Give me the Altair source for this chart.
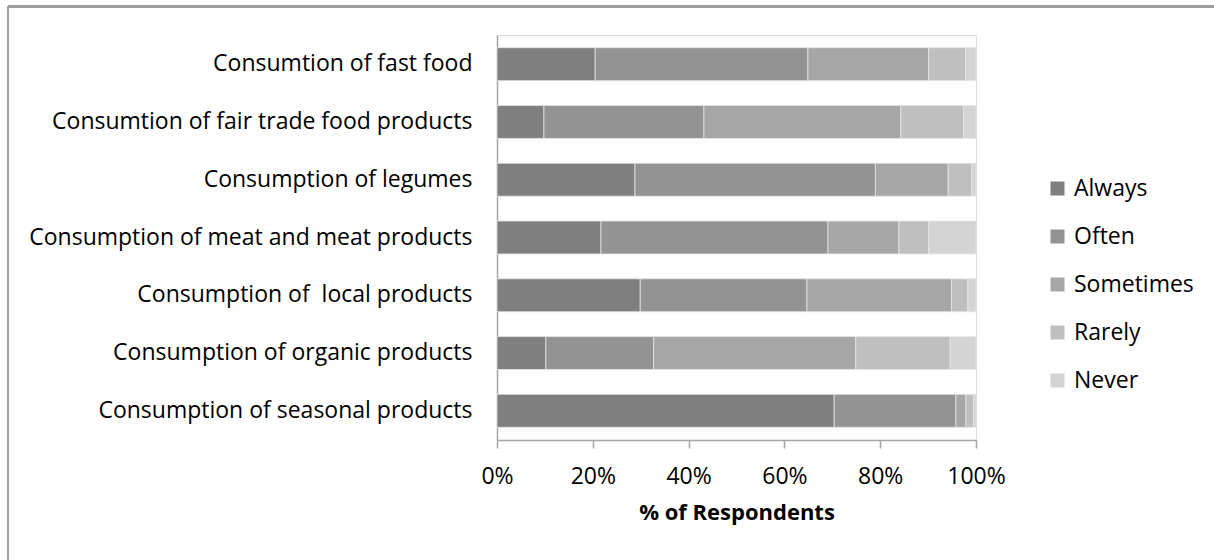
import altair as alt
import pandas as pd

categories = [
    "Consumtion of fast food",
    "Consumtion of fair trade food products",
    "Consumption of legumes",
    "Consumption of meat and meat products",
    "Consumption of \u00a0local products",
    "Consumption of organic products",
    "Consumption of seasonal products",
]
responses = ["Always", "Often", "Sometimes", "Rarely", "Never"]
always = [20.5, 9.8, 28.8, 21.7, 29.9, 10.2, 70.4]
often = [44.4, 33.4, 50.2, 47.4, 34.8, 22.5, 25.4]
sometimes = [25.2, 41.1, 15.2, 14.8, 30.2, 42.2, 2.1]
rarely = [7.7, 13.1, 4.9, 6.2, 3.4, 19.7, 1.6]
never = [2.2, 2.6, 0.9, 9.9, 1.7, 5.4, 0.5]
colors = ["#7f7f7f", "#939393", "#a6a6a6", "#bfbfbf", "#d4d4d4"]
x_ticks = [0, 0.2, 0.4, 0.6, 0.8, 1.0]

series = [always, often, sometimes, rarely, never]
rows = []
for ri, (resp, vals) in enumerate(zip(responses, series)):
    for cat, v in zip(categories, vals):
        rows.append({"category": cat, "response": resp, "value": v, "order": ri})
df = pd.DataFrame(rows)

FONT = "Open Sans"
FS = 23

bars = alt.Chart(df).mark_bar(stroke="#e6e6e6", strokeWidth=0.8).encode(
    y=alt.Y("category:N", sort=categories,
            scale=alt.Scale(paddingInner=0.43, paddingOuter=0.22),
            axis=alt.Axis(title=None, ticks=False, domainColor="#a6a6a6", domainWidth=1.5,
                          labelFontSize=FS, labelFont=FONT, labelColor="#000000",
                          labelPadding=25, labelLimit=490)),
    x=alt.X("value:Q", stack="normalize",
            scale=alt.Scale(domain=[0, 1]),
            axis=alt.Axis(values=x_ticks, format=".0%", title="% of Respondents",
                          grid=False, domainColor="#a6a6a6", domainWidth=1.5,
                          tickColor="#a6a6a6", tickWidth=1.5, tickSize=8,
                          labelFontSize=FS, labelFont=FONT, labelColor="#000000",
                          labelPadding=17, labelFlush=False,
                          titleFontSize=22, titleFont=FONT, titleFontWeight="bold",
                          titleColor="#000000", titlePadding=14)),
    color=alt.Color("response:N", sort=responses,
                    scale=alt.Scale(domain=responses, range=colors),
                    legend=alt.Legend(title=None, orient="none", legendX=549, legendY=142,
                                      symbolType="square", symbolSize=196,
                                      symbolStrokeWidth=0, symbolOpacity=1,
                                      labelFontSize=FS, labelFont=FONT, labelColor="#000000",
                                      labelOffset=5, rowPadding=24)),
    order=alt.Order("order:Q", sort="ascending"),
)

frame_top = alt.Chart(df).mark_rule(color="#a0a0a0", strokeWidth=1.5).encode(
    x=alt.value(-489), x2=alt.value(717), y=alt.value(-28.5)
)
frame_left = alt.Chart(df).mark_rule(color="#a0a0a0", strokeWidth=1.5).encode(
    x=alt.value(-489), y=alt.value(-28.5), y2=alt.value(525)
)

chart = alt.layer(bars, frame_top, frame_left).properties(
    width=479, height=405,
    autosize=alt.AutoSizeParams(type="none"),
    padding={"left": 497, "top": 35, "right": 238, "bottom": 120},
).configure_view(stroke=None).configure(background="white")

chart.save("out.html", embed_options={"renderer": "svg", "actions": False})
